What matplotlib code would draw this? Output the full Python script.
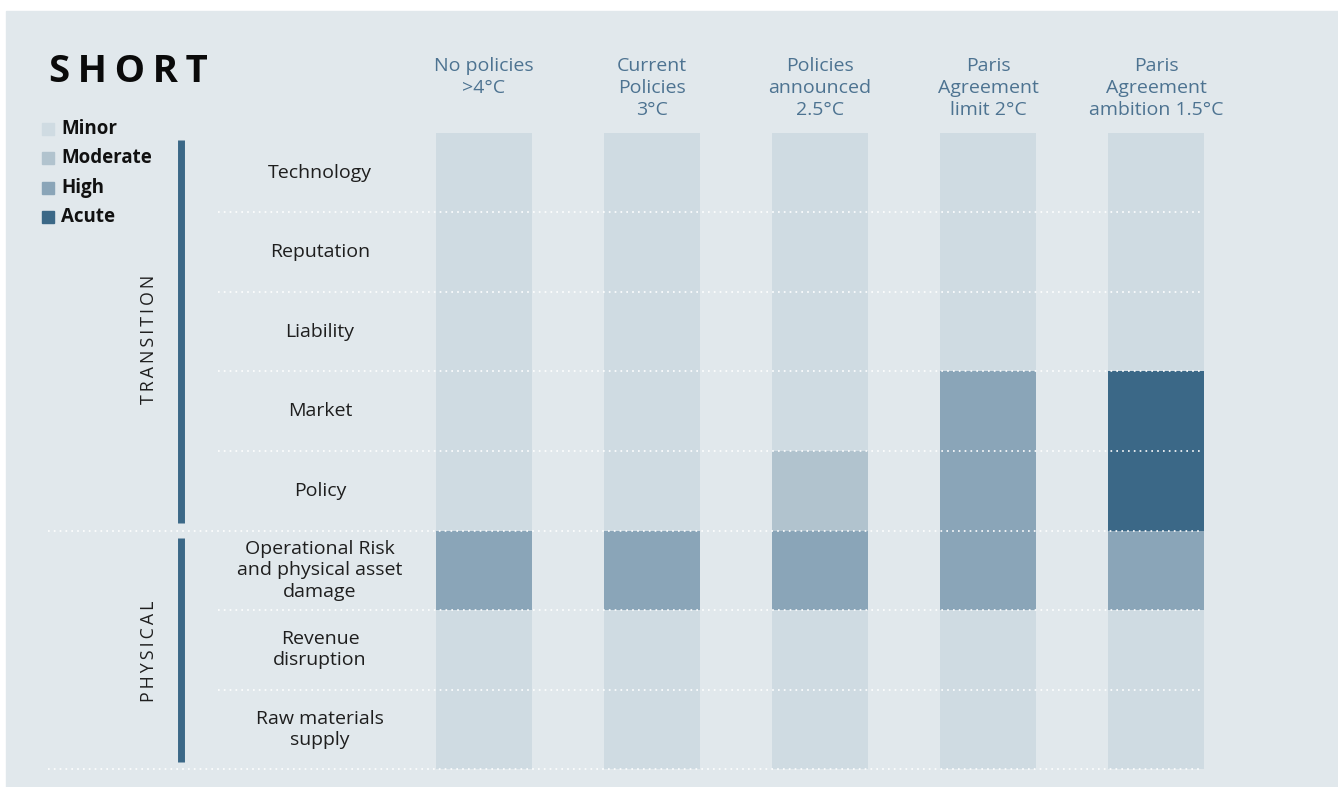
"""Climate risk heatmap, short horizon."""

import matplotlib

matplotlib.use("Agg")
import matplotlib.pyplot as plt  # noqa: E402
import numpy as np  # noqa: E402
from matplotlib.patches import Rectangle  # noqa: E402

plt.rcParams["font.family"] = ["Open Sans", "DejaVu Sans"]

scenarios = [
    "No policies\n>4°C",
    "Current\nPolicies\n3°C",
    "Policies\nannounced\n2.5°C",
    "Paris\nAgreement\nlimit 2°C",
    "Paris\nAgreement\nambition 1.5°C",
]
risks = [
    "Technology",
    "Reputation",
    "Liability",
    "Market",
    "Policy",
    "Operational Risk\nand physical asset\ndamage",
    "Revenue\ndisruption",
    "Raw materials\nsupply",
]
levels = ["Minor", "Moderate", "High", "Acute"]
# level index per scenario (rows follow `risks`)
no_policies = [0, 0, 0, 0, 0, 2, 0, 0]
current = [0, 0, 0, 0, 0, 2, 0, 0]
announced = [0, 0, 0, 0, 1, 2, 0, 0]
paris_2 = [0, 0, 0, 2, 2, 2, 0, 0]
paris_15 = [0, 0, 0, 3, 3, 2, 0, 0]
groups = ["TRANSITION", "PHYSICAL"]
group_rows = [(0, 5), (5, 8)]

BG = "#e1e8ec"
LEVEL_COLORS = ["#cfdbe2", "#b1c3ce", "#8aa5b8", "#3b6887"]
DARK = "#3b6887"
HEAD = "#4d7391"

W, H = 1338, 787
fig = plt.figure(figsize=(W / 100, H / 100), dpi=100)
fig.patch.set_facecolor("white")


def px(x0, y0, x1, y1):
    """Figure rect from pixel box (top-left origin)."""
    return [x0 / W, 1 - y1 / H, (x1 - x0) / W, (y1 - y0) / H]


# background panel + overlay axes in pixel coords
bg = fig.add_axes([0, 0, 1, 1])
bg.set_xlim(0, W)
bg.set_ylim(H, 0)
bg.axis("off")
bg.add_patch(Rectangle((6, 11), W, H, color=BG, zorder=0))

# grid axes: x in column index, y in row index
col_step, col0 = 168, 484
row_top, row_bot = 133, 769
gx0, gx1 = 40, 1332
ax = fig.add_axes(px(gx0, row_top, gx1, row_bot))
ax.set_xlim((gx0 - col0) / col_step, (gx1 - col0) / col_step)
ax.set_ylim(len(risks), 0)
ax.axis("off")

row_px = (row_bot - row_top) / len(risks)
data = np.array([no_policies, current, announced, paris_2, paris_15])
for i, col in enumerate(data):
    ax.bar(
        np.full(len(risks), i),
        np.ones(len(risks)),
        bottom=np.arange(len(risks)),
        width=96 / col_step,
        color=[LEVEL_COLORS[v] for v in col],
        linewidth=0,
        zorder=1,
    )
    ax.text(i, -(row_top - 57) / row_px, scenarios[i], ha="center", va="top",
            fontsize=14, color=HEAD, linespacing=1.27)

label_x = (320 - col0) / col_step
line_x0 = (218 - col0) / col_step
full_x0 = (48 - col0) / col_step
line_x1 = (1203 - col0) / col_step
for r, name in enumerate(risks):
    ax.text(label_x, r + 0.5, name, ha="center", va="center",
            fontsize=14, color="#1e1e1e", linespacing=1.24)
for r in range(1, len(risks) + 1):
    start = full_x0 if r in (5, 8) else line_x0
    ax.plot([start, line_x1], [r, r], color="white", lw=1.2,
            ls=(0, (1, 2.5)), zorder=3, clip_on=False)

# group brackets + labels
bar_x = (181 - col0) / col_step
grp_x = (149 - col0) / col_step
grp_shift = [0.1, 0.02]
for name, (r0, r1), dy in zip(groups, group_rows, grp_shift):
    ax.plot([bar_x, bar_x], [r0 + 0.09, r1 - 0.09], color=DARK, lw=5,
            solid_capstyle="butt", clip_on=False)
    ax.text(grp_x, (r0 + r1) / 2 + dy, "\u2009".join(name),
            rotation=90, ha="center", va="center",
            fontsize=12.8, color="#1e1e1e")

# title and legend
bg.text(49, 72, "\u2009".join("SHORT"), fontsize=27.5,
        fontweight="bold", ha="left", va="center", color="#0a0a0a")
for k, (lvl, c) in enumerate(zip(levels, LEVEL_COLORS)):
    y = 129 + 29.3 * k
    bg.add_patch(Rectangle((42, y - 6), 12, 12, color=c, zorder=2))
    bg.text(61, y, lvl, fontsize=13.5, fontweight="bold", ha="left",
            va="center", color="#111111")

fig.savefig("out.png", dpi=100, facecolor=fig.get_facecolor())
plt.close(fig)
